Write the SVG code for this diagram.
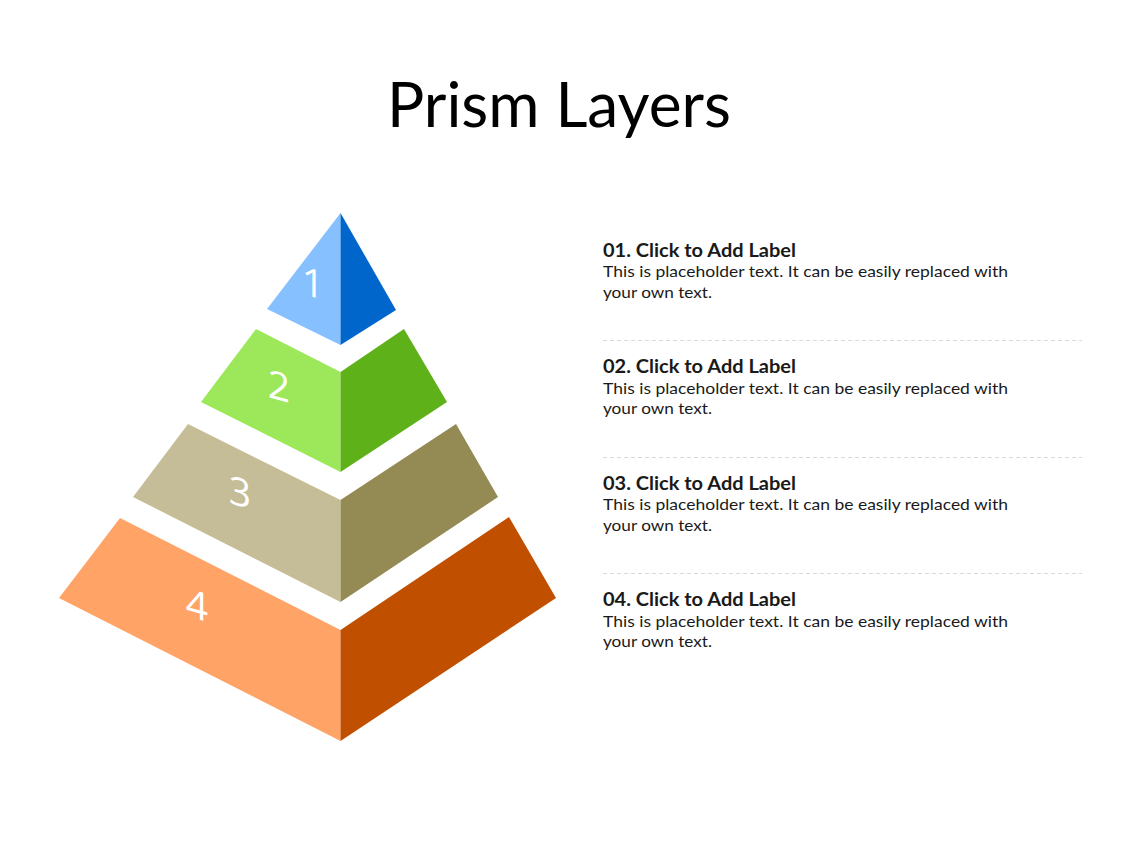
<svg xmlns="http://www.w3.org/2000/svg" width="1128" height="846" viewBox="0 0 1128 846">
<style>
.title{font-family:Lato,"Open Sans","Liberation Sans",sans-serif;font-size:62px;fill:#000}
.num{font-family:"Open Sans",Lato,"Liberation Sans",sans-serif;font-weight:normal;font-size:39px;fill:#fff;text-anchor:middle}
.lbl{font-family:Lato,"Open Sans","Liberation Sans",sans-serif;font-weight:bold;font-size:18.5px;fill:#1a1a1a}
.body{font-family:Lato,"Open Sans","Liberation Sans",sans-serif;font-size:16px;fill:#1a1a1a}
.sep{stroke:#d9d9d9;stroke-width:1;stroke-dasharray:4 3;fill:none}
</style>
<rect width="1128" height="846" fill="#fff"/>
<text class="title" x="387" y="127" textLength="344" lengthAdjust="spacingAndGlyphs">Prism Layers</text>

<g id="layer1">
<polygon points="340.5,213 267,309 340.5,345" fill="#87C0FF"/>
<polygon points="340.5,213 396,310 340.5,345" fill="#0066CC"/>
<text class="num" transform="translate(313,297) skewY(15)" x="0" y="0">1</text>
</g>
<g id="layer2">
<polygon points="256,329 340.5,372 340.5,472 201,402" fill="#9CE85A"/>
<polygon points="340.5,372 404,329 447,402 340.5,472" fill="#5FB11A"/>
<text class="num" transform="translate(279,400) skewY(15)" x="0" y="0">2</text>
</g>
<g id="layer3">
<polygon points="188,424 340.5,500 340.5,602 133,497" fill="#C4BD97"/>
<polygon points="340.5,500 456,424 498,497 340.5,602" fill="#948A54"/>
<text class="num" transform="translate(240,506) skewY(15)" x="0" y="0">3</text>
</g>
<g id="layer4">
<polygon points="120,518 340.5,630 340.5,741 59,598" fill="#FFA366"/>
<polygon points="340.5,630 509,517 556,598 340.5,741" fill="#C04F00"/>
<text class="num" transform="translate(197,619) skewY(15)" x="0" y="0">4</text>
</g>

<g id="connectors">
<line class="sep" x1="603" y1="340.5" x2="1082" y2="340.5"/>
<line class="sep" x1="603" y1="457.5" x2="1082" y2="457.5"/>
<line class="sep" x1="603" y1="573.5" x2="1082" y2="573.5"/>
</g>

<g id="item1">
<text class="lbl" x="603" y="256.5" textLength="193" lengthAdjust="spacingAndGlyphs">01. Click to Add Label</text>
<text class="body" x="603" y="277" textLength="405" lengthAdjust="spacingAndGlyphs">This is placeholder text. It can be easily replaced with</text>
<text class="body" x="603" y="297.5" textLength="109" lengthAdjust="spacingAndGlyphs">your own text.</text>
</g>
<g id="item2">
<text class="lbl" x="603" y="373" textLength="193" lengthAdjust="spacingAndGlyphs">02. Click to Add Label</text>
<text class="body" x="603" y="393.5" textLength="405" lengthAdjust="spacingAndGlyphs">This is placeholder text. It can be easily replaced with</text>
<text class="body" x="603" y="414" textLength="109" lengthAdjust="spacingAndGlyphs">your own text.</text>
</g>
<g id="item3">
<text class="lbl" x="603" y="489.5" textLength="193" lengthAdjust="spacingAndGlyphs">03. Click to Add Label</text>
<text class="body" x="603" y="510" textLength="405" lengthAdjust="spacingAndGlyphs">This is placeholder text. It can be easily replaced with</text>
<text class="body" x="603" y="530.5" textLength="109" lengthAdjust="spacingAndGlyphs">your own text.</text>
</g>
<g id="item4">
<text class="lbl" x="603" y="606" textLength="193" lengthAdjust="spacingAndGlyphs">04. Click to Add Label</text>
<text class="body" x="603" y="626.5" textLength="405" lengthAdjust="spacingAndGlyphs">This is placeholder text. It can be easily replaced with</text>
<text class="body" x="603" y="647" textLength="109" lengthAdjust="spacingAndGlyphs">your own text.</text>
</g>
</svg>
